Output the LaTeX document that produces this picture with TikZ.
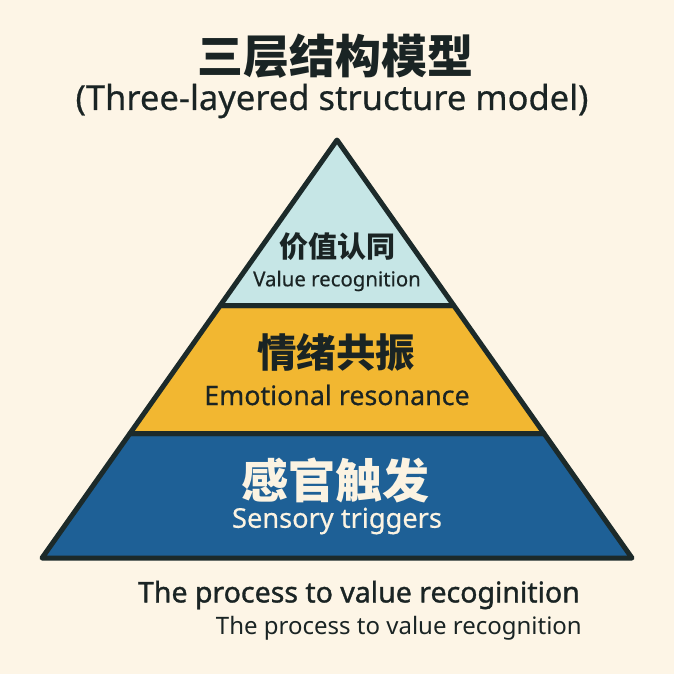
\documentclass[tikz,border=0pt]{standalone}
\usepackage{fontspec}
\setmainfont{Noto Sans}
\newfontfamily\med[FakeBold=0.5]{Noto Sans}
\newfontfamily\semi[FakeBold=1.2]{Noto Sans}
\newfontfamily\cjk{Noto Sans CJK SC}
\definecolor{bg}{HTML}{FDF5E6}
\definecolor{topc}{HTML}{C6E6E6}
\definecolor{midc}{HTML}{F2B731}
\definecolor{botc}{HTML}{1E6096}
\definecolor{edge}{HTML}{1C2A2A}
\definecolor{ink}{HTML}{1A2424}
\definecolor{cream}{HTML}{FBF3E2}
\tikzset{
  layer/.style={draw=edge, line width=5pt, line join=round},
  lbl/.style={inner sep=0pt, anchor=center},
}
\begin{document}
\begin{tikzpicture}[x=1pt,y=-1pt]
\fill[bg] (0,0) rectangle (674,674);
\useasboundingbox (0,0) rectangle (674,674);
\coordinate (A) at (337,140);
\coordinate (L1) at (220.2,305.5);
\coordinate (R1) at (453.8,305.5);
\coordinate (L2) at (129.9,433.5);
\coordinate (R2) at (544.1,433.5);
\coordinate (L3) at (42,558);
\coordinate (R3) at (632,558);
\filldraw[layer, fill=botc] (L2) -- (R2) -- (R3) -- (L3) -- cycle;
\filldraw[layer, fill=midc] (L1) -- (R1) -- (R2) -- (L2) -- cycle;
\filldraw[layer, fill=topc] (A) -- (R1) -- (L1) -- cycle;
\node[lbl, text=ink] (title) at (335,56) {\fontsize{46}{48}\selectfont\cjk\bfseries 三层结构模型};
\node[lbl, text=ink] (subtitle) at (332,101) {\fontsize{34.5}{38}\selectfont\med (Three-layered structure model)};
\node[lbl, text=ink] (t1) at (337,247) {\fontsize{29}{30}\selectfont\cjk\bfseries 价值认同};
\node[lbl, text=ink] (t1e) at (337,281) {\fontsize{20.4}{22}\selectfont\med Value recognition};
\node[lbl, text=ink] (t2) at (336,353) {\fontsize{39.5}{40}\selectfont\cjk\bfseries 情绪共振};
\node[lbl, text=ink] (t2e) at (337,395) {\fontsize{26.8}{28}\selectfont\med Emotional resonance};
\node[lbl, text=cream] (t3) at (335,480) {\fontsize{47}{48}\selectfont\cjk\bfseries 感官触发};
\node[lbl, text=cream] (t3e) at (337,521) {\fontsize{27.2}{28}\selectfont\med Sensory triggers};
\node[lbl, text=ink, anchor=east] (p1) at (580,595) {\fontsize{28.5}{30}\selectfont\semi The process to value recoginition};
\node[lbl, text=ink, anchor=east] (p2) at (582,628) {\fontsize{24}{26}\selectfont The process to value recognition};
\end{tikzpicture}
\end{document}
